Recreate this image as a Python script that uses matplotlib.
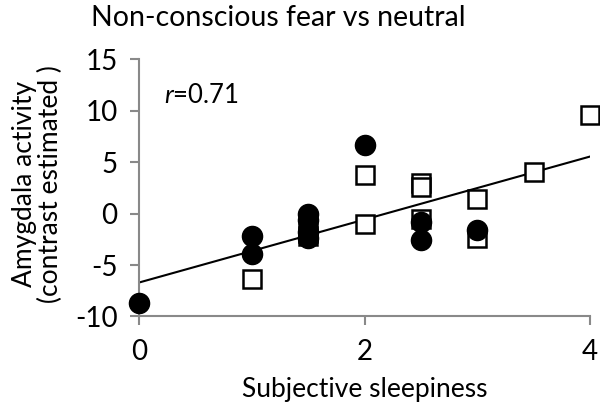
import numpy as np
import matplotlib
matplotlib.use("Agg")
import matplotlib.pyplot as plt

plt.rcParams['font.family'] = ['Lato', 'DejaVu Sans']
plt.rcParams['mathtext.fontset'] = 'custom'
plt.rcParams['mathtext.it'] = 'Lato:italic'
plt.rcParams['mathtext.rm'] = 'Lato'
plt.rcParams['axes.unicode_minus'] = False

# Data
circle_x = [0, 1, 1, 1.5, 1.5, 1.5, 1.5, 2, 2.5, 2.5, 3]
circle_y = [-8.7, -2.2, -3.9, 0.0, -0.6, -1.8, -2.4, 6.7, -0.8, -2.6, -1.6]
square_x = [1, 1.5, 1.5, 2, 2, 2.5, 2.5, 2.5, 3, 3, 3.5, 4]
square_y = [-6.4, -1.9, -2.2, 3.7, -1.0, 3.0, 2.6, -0.5, 1.4, -2.4, 4.0, 9.6]

# regression line
fit_intercept = -6.7
fit_slope = 3.06
r_value = 0.71

x_ticks = [0, 2, 4]
y_ticks = [-10, -5, 0, 5, 10, 15]

fig = plt.figure(figsize=(6, 4.04), dpi=100)
ax = fig.add_axes([0.2317, 0.2166, 0.7516, 0.6369])

gray = '#898989'

xs = np.array([0, 4])
ax.plot(xs, fit_intercept + fit_slope * xs, color='black', lw=1.5, zorder=2)

ax.plot(square_x, square_y, 's', markersize=12.5, markerfacecolor='white',
        markeredgecolor='black', markeredgewidth=1.8, clip_on=False, zorder=3)
ax.plot(circle_x, circle_y, 'o', markersize=14.5, color='black',
        clip_on=False, zorder=4)

ax.set_xlim(0, 4)
ax.set_ylim(-10, 15)
ax.set_xticks(x_ticks)
ax.set_yticks(y_ticks)

for side in ['top', 'right']:
    ax.spines[side].set_visible(False)
for side in ['left', 'bottom']:
    ax.spines[side].set_color(gray)
    ax.spines[side].set_linewidth(1.5)
ax.tick_params(direction='out', length=6.5, width=1.5, color=gray,
               labelsize=20)
ax.tick_params(axis='y', pad=9)
ax.tick_params(axis='x', pad=10)

ax.text(0.22, 10.7, '$r$=%.2f' % r_value, fontsize=18.5, ha='left', va='baseline')

ax.set_xlabel('Subjective sleepiness', fontsize=19, labelpad=8)
ax.set_ylabel('Amygdala activity\n(contrast estimated )', fontsize=19,
              linespacing=1.05, va='center')
ax.yaxis.set_label_coords(-0.225, 0.515)

fig.text(0.464, 0.955, 'Non-conscious fear vs neutral', fontsize=20.5,
         ha='center', va='center')

fig.savefig('out.png', dpi=100)
